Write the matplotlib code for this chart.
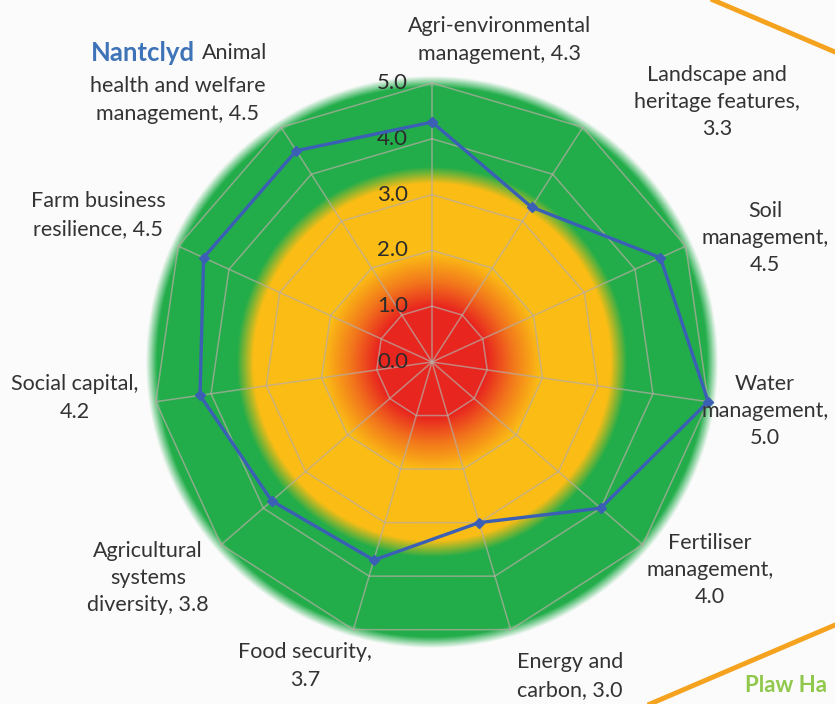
import numpy as np
import matplotlib
matplotlib.use("Agg")
import matplotlib.pyplot as plt
from matplotlib.colors import to_rgb
from matplotlib.lines import Line2D

plt.rcParams['font.family'] = ['Lato', 'DejaVu Sans']

# ---- data -------------------------------------------------------------
categories = [
    "Agri-environmental\nmanagement, {v}",
    "Landscape and\nheritage features,\n{v}",
    "Soil\nmanagement,\n{v}",
    "Water\nmanagement,\n{v}",
    "Fertiliser\nmanagement,\n{v}",
    "Energy and\ncarbon, {v}",
    "Food security,\n{v}",
    "Agricultural\nsystems\ndiversity, {v}",
    "Social capital,\n{v}",
    "Farm business\nresilience, {v}",
    "Animal\nhealth and welfare\nmanagement, {v}",
]
scores = [4.3, 3.3, 4.5, 5.0, 4.0, 3.0, 3.7, 3.8, 4.2, 4.5, 4.5]
ring_levels = [0.0, 1.0, 2.0, 3.0, 4.0, 5.0]
farm_name = "Nantclyd"
next_farm = "Plaw Ha"

# ---- figure / axes ----------------------------------------------------
W, H = 835, 704
fig = plt.figure(figsize=(W / 100, H / 100), dpi=100)
fig.patch.set_facecolor("#fbfbfb")

cx, cy = 432, 362          # radar centre in pixels
rmax = 5.3
px_per_unit = 55.8
R = rmax * px_per_unit
box = [(cx - R) / W, (H - cy - R) / H, 2 * R / W, 2 * R / H]

# Background traffic-light disc
bg = fig.add_axes(box)
bg.set_xlim(-rmax, rmax)
bg.set_ylim(-rmax, rmax)
bg.axis("off")
n = 700
xs = np.linspace(-rmax, rmax, n)
X, Y = np.meshgrid(xs, xs)
rr = np.hypot(X, Y)
red = np.array(to_rgb("#e8261f"))
orange = np.array(to_rgb("#f2761c"))
yellow = np.array(to_rgb("#fbbd15"))
green = np.array(to_rgb("#22ad4a"))
stops = [0.0, 1.0, 1.45, 1.95, 3.2, 3.5, 5.3]
cols = [red, red, orange, yellow, yellow, green, green]
img = np.zeros((n, n, 4))
for c in range(3):
    img[..., c] = np.interp(rr, stops, [col[c] for col in cols])
img[..., 3] = np.interp(rr, [0, 4.93, 5.13], [1, 1, 0])
bg.imshow(img, extent=[-rmax, rmax, -rmax, rmax], origin="lower",
          interpolation="bilinear", zorder=0)

# Radar axes
ax = fig.add_axes(box, projection="polar")
ax.patch.set_alpha(0)
ax.set_theta_offset(np.pi / 2)
ax.set_theta_direction(-1)
ax.set_ylim(0, rmax)
ax.grid(False)
ax.spines["polar"].set_visible(False)
ax.set_xticks([])
ax.set_yticks([])

N = len(scores)
theta = np.arange(N) * 2 * np.pi / N
theta_closed = np.append(theta, theta[0])

grid_kw = dict(color="#b8aca4", lw=1.1, alpha=0.7, zorder=2)
for lv in ring_levels[1:]:
    ax.plot(theta_closed, [lv] * (N + 1), **grid_kw)
for t in theta:
    ax.plot([t, t], [0, ring_levels[-1]], **grid_kw)

for lv in ring_levels:
    ax.annotate(f"{lv:.1f}", xy=(0, lv), xytext=(-24, 0),
                textcoords="offset pixels", ha="right", va="center",
                fontsize=16, color="#2b2b2b", zorder=4)

vals_closed = np.append(scores, scores[0])
ax.plot(theta_closed, vals_closed, color="#3b5fb5", lw=2.4, zorder=5,
        marker="D", markersize=5.5, markerfacecolor="#3b5fb5",
        markeredgecolor="#3b5fb5")

# Category labels (pixel positions of label centres)
label_pos = [
    (500, 40), (717, 102), (765, 238), (765, 411), (710, 570),
    (570, 676), (305, 666), (148, 578), (75, 398), (98, 215), (178, 85),
]
FS = 15.5
txt_kw = dict(ha="center", va="center", fontsize=FS, color="#333333",
              linespacing=1.45)
for i, (tmpl, v) in enumerate(zip(categories, scores)):
    x, y = label_pos[i]
    s = tmpl.format(v=f"{v:.1f}")
    if i == N - 1:
        s = s.replace("Animal\n", "", 1)
        fig.text(x / W, 1 - (y + 15) / H, s, **txt_kw)
        fig.text(202 / W, 1 - 53 / H, "Animal", ha="left", va="center",
                 fontsize=FS, color="#333333")
        fig.text(195 / W, 1 - 53 / H, farm_name, ha="right", va="center",
                 fontsize=18.5, color="#3f73b8", fontweight="bold")
    else:
        fig.text(x / W, 1 - y / H, s, **txt_kw)

# Decorative frame strokes from neighbouring panels
fig.add_artist(Line2D([713 / W, 1.0], [1.0, 1 - 52 / H],
                      transform=fig.transFigure, color="#f5a31f", lw=3.5))
fig.add_artist(Line2D([650 / W, 1.0], [0.0, 1 - 625 / H],
                      transform=fig.transFigure, color="#f5a31f", lw=3.5))
fig.text(745 / W, 1 - 686 / H, next_farm, ha="left", va="center",
         fontsize=16, color="#8fc84a", fontweight="bold")

fig.savefig("out.png", dpi=100, facecolor=fig.get_facecolor())
